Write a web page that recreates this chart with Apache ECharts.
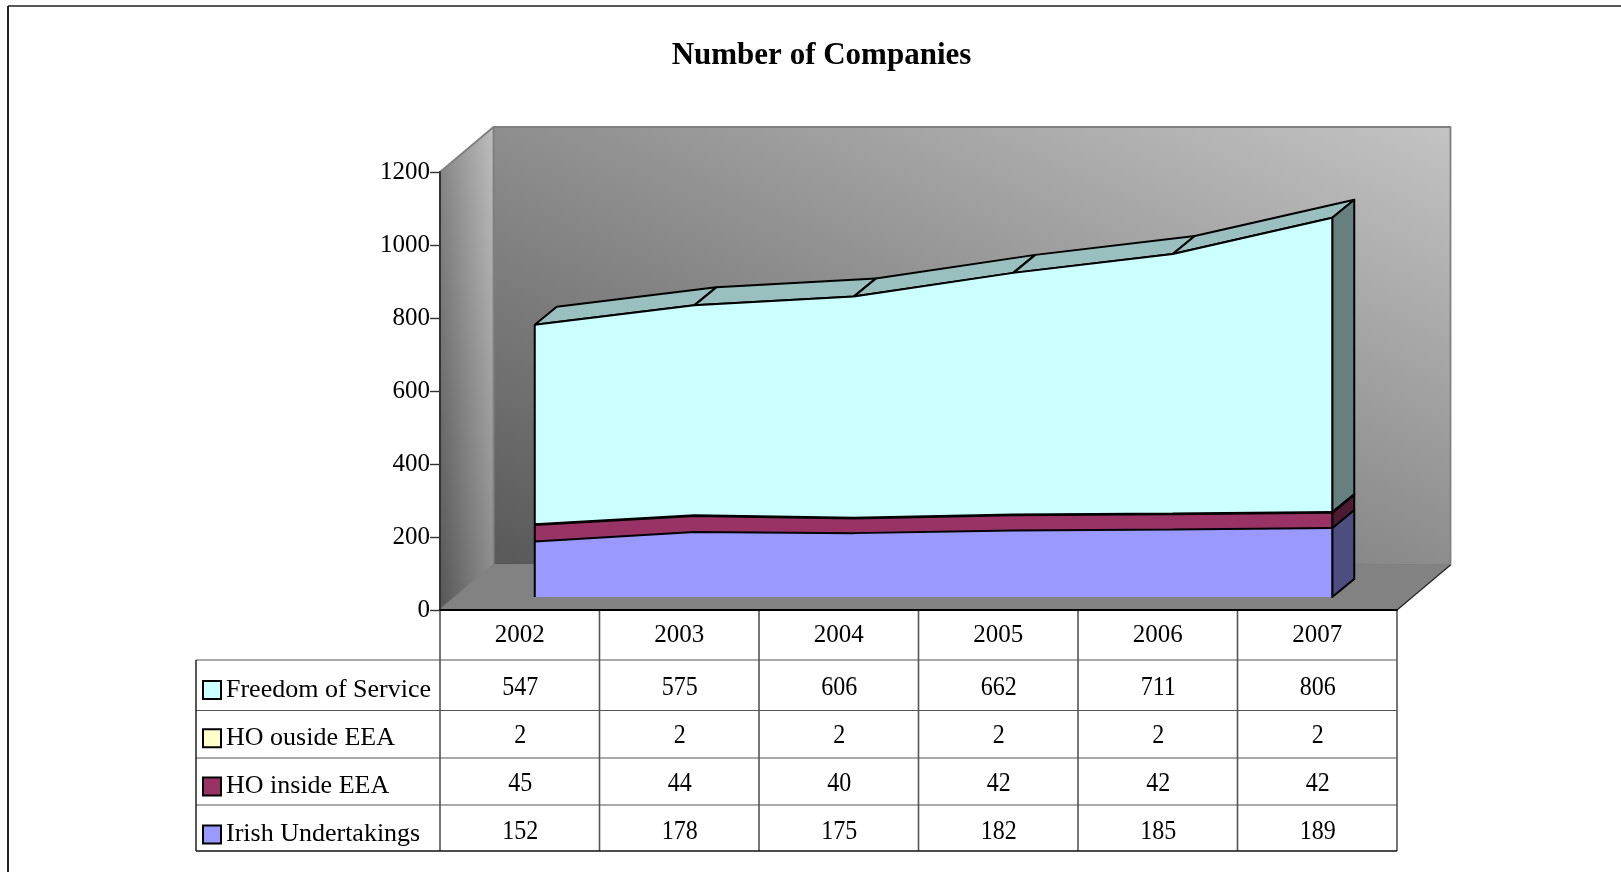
<!DOCTYPE html>
<html><head><meta charset="utf-8">
<style>html,body{margin:0;padding:0;background:#fff}#c{width:1621px;height:872px}</style>
<script src="https://cdn.jsdelivr.net/npm/echarts@6/dist/echarts.min.js"></script>
</head><body><div id="c"></div>
<script>
const categories = ['2002','2003','2004','2005','2006','2007'];
const irishUndertakings = [152,178,175,182,185,189];
const hoInsideEEA = [45,44,40,42,42,42];
const hoOutsideEEA = [2,2,2,2,2,2];
const freedomOfService = [547,575,606,662,711,806];
const yTicks = {min:0,max:1200,interval:200};
const titleText = 'Number of Companies';

const FONT = '"Liberation Serif","Times New Roman",serif';
const layers = [
  {name:'Irish Undertakings', values:irishUndertakings, color:'#9999FF', side:'#4D4D80'},
  {name:'HO inside EEA', values:hoInsideEEA, color:'#993366', side:'#4D1A33'},
  {name:'HO ouside EEA', values:hoOutsideEEA, color:'#FFFFCC', side:'#808066'},
  {name:'Freedom of Service', values:freedomOfService, color:'#CCFFFF', side:'#668080', top:'#99BFBF'}
];
const tableRows = [layers[3],layers[2],layers[1],layers[0]];
const cum = [];
layers.forEach((l,k)=>{cum.push(l.values.map((v,i)=>v+(k?cum[k-1][i]:0)));});

const ROOM = {dx:53.5, dy:-45};
const AREA = {dx:22, dy:-18};
const ROW_LINES = [660,710.5,758,805,851];
const ROW_TEXT = [688,736,784,832];
const TABLE_LEFT = 196;

function poly(points, fill, stroke, lw){
  return {type:'polygon', shape:{points}, style:{fill, stroke:stroke||null, lineWidth:lw||0, lineJoin:'round'}};
}
function line(x1,y1,x2,y2,stroke,lw){
  return {type:'line', shape:{x1,y1,x2,y2}, style:{stroke, lineWidth:lw}};
}
const off = (p,d)=>[p[0]+d.dx,p[1]+d.dy];

function renderRoom(params){
  const r = params.coordSys, x0=r.x, x1=r.x+r.width, yt=r.y, yb=r.y+r.height;
  const d = ROOM;
  const wallGrad = {type:'linear',x:0,y:1,x2:0.34,y2:-0.656,colorStops:[{offset:0,color:'#585858'},{offset:1,color:'#C4C4C4'}]};
  const sideGrad = {type:'linear',x:0,y:1,x2:2,y2:0.976,colorStops:[{offset:0,color:'#555555'},{offset:1,color:'#C4C4C4'}]};
  return {type:'group',children:[
    poly([[x0+d.dx,yt+d.dy],[x1+d.dx,yt+d.dy],[x1+d.dx,yb+d.dy],[x0+d.dx,yb+d.dy]],wallGrad,'#808080',1.8),
    poly([[x0,yb],[x0,yt],[x0+d.dx,yt+d.dy],[x0+d.dx,yb+d.dy]],sideGrad,'#808080',1.8),
    poly([[x0,yb],[x0+d.dx,yb+d.dy],[x1+d.dx,yb+d.dy],[x1,yb]],'#828282'),
    line(x1,yb,x1+d.dx,yb+d.dy,'#222',1.2)
  ]};
}
function renderDepth(params,api){
  const n = categories.length, kids=[];
  const top = cum[3], last=n-1;
  for(let i=0;i<n-1;i++){
    const a=api.coord([i,top[i]]), b=api.coord([i+1,top[i+1]]);
    kids.push(poly([a,b,off(b,AREA),off(a,AREA)],layers[3].top,'#000',2));
  }
  layers.forEach((l,k)=>{
    const lo=api.coord([last,k?cum[k-1][last]:0]), hi=api.coord([last,cum[k][last]]);
    kids.push(poly([lo,hi,off(hi,AREA),off(lo,AREA)],l.side,'#000',2));
  });
  return {type:'group',children:kids};
}
function renderEdges(params,api){
  const n=categories.length, a0=api.coord([0,0]), a1=api.coord([0,cum[3][0]]), b0=api.coord([n-1,0]), b1=api.coord([n-1,cum[3][n-1]]);
  return {type:'group',children:[line(a0[0],a0[1],a1[0],a1[1],'#000',2),line(b0[0],b0[1],b1[0],b1[1],'#000',2)]};
}
function renderTableGrid(params){
  const r=params.coordSys, x0=r.x, x1=r.x+r.width, yt=r.y+r.height, band=r.width/categories.length;
  const kids=[];
  for(let i=0;i<=categories.length;i++){
    const x=x0+band*i;
    kids.push(line(x,yt,x,ROW_LINES[ROW_LINES.length-1],'#555',1.6));
  }
  ROW_LINES.forEach((y,i)=>{
    kids.push(line(TABLE_LEFT,y,x1,y,i===ROW_LINES.length-1?'#111':'#555',i===ROW_LINES.length-1?1.4:1.2));
  });
  kids.push(line(TABLE_LEFT,ROW_LINES[0],TABLE_LEFT,ROW_LINES[ROW_LINES.length-1],'#111',1.4));
  return {type:'group',children:kids};
}
const cellData=[];
tableRows.forEach((l,r)=>l.values.forEach((v,c)=>cellData.push([c,v,r])));
function renderCell(params,api){
  const d=cellData[params.dataIndex];
  const x=api.coord([d[0],0])[0]+0.5;
  return {type:'text',x,y:ROW_TEXT[d[2]],scaleX:0.89,
    style:{text:String(d[1]),fontFamily:FONT,fontSize:27,fill:'#000',align:'center',verticalAlign:'middle'}};
}

const option = {
  animation:false,
  backgroundColor:'#fff',
  title:{text:titleText,left:816.5,top:35,textAlign:'center',
    textStyle:{fontFamily:FONT,fontWeight:'bold',fontSize:31,color:'#000'}},
  legend:{orient:'vertical',left:197,top:672,itemWidth:18,itemHeight:18,itemGap:22.2,icon:'rect',
    selectedMode:false,
    itemStyle:{borderColor:'#000',borderWidth:2},
    data:tableRows.map(l=>l.name),
    textStyle:{fontFamily:FONT,fontSize:26,color:'#000',padding:[0,0,0,0]}},
  grid:[
    {left:440,top:172,width:957,height:438},
    {left:455,top:159,width:957,height:438}
  ],
  xAxis:[
    {type:'category',gridIndex:0,data:categories,z:5,boundaryGap:true,
     axisLine:{lineStyle:{color:'#000',width:2}},axisTick:{show:false},
     axisLabel:{fontFamily:FONT,fontSize:25,color:'#000',margin:13}},
    {type:'category',gridIndex:1,data:categories,boundaryGap:true,show:false}
  ],
  yAxis:[
    {type:'value',gridIndex:0,min:yTicks.min,max:yTicks.max,interval:yTicks.interval,z:5,
     axisLine:{show:true,lineStyle:{color:'#333',width:2}},
     axisTick:{show:true,length:10,lineStyle:{color:'#333',width:1.4}},
     splitLine:{show:false},
     axisLabel:{fontFamily:FONT,fontSize:25,color:'#000',margin:10,formatter:v=>String(v)}},
    {type:'value',gridIndex:1,min:yTicks.min,max:yTicks.max,interval:yTicks.interval,show:false}
  ],
  graphic:[
    {type:'line',z:100,shape:{x1:8,y1:6,x2:1621,y2:6},style:{stroke:'#222',lineWidth:1.6}},
    {type:'line',z:100,shape:{x1:8,y1:6,x2:8,y2:872},style:{stroke:'#222',lineWidth:2}}
  ],
  series:[
    {type:'custom',name:'room',xAxisIndex:0,yAxisIndex:0,z:0,silent:true,data:[[0,0]],renderItem:renderRoom},
    {type:'custom',name:'depth',xAxisIndex:1,yAxisIndex:1,z:1,silent:true,data:[[0,0]],renderItem:renderDepth},
    ...layers.map(l=>({
      type:'line',name:l.name,xAxisIndex:1,yAxisIndex:1,stack:'total',data:l.values,
      symbol:'none',clip:false,z:2,
      itemStyle:{color:l.color},
      lineStyle:{color:'#000',width:2},
      areaStyle:{color:l.color,opacity:1}
    })),
    {type:'custom',name:'edges',xAxisIndex:1,yAxisIndex:1,z:3,silent:true,data:[[0,0]],renderItem:renderEdges},
    {type:'custom',name:'tableGrid',xAxisIndex:0,yAxisIndex:0,z:4,silent:true,data:[[0,0]],renderItem:renderTableGrid},
    {type:'custom',name:'tableCells',xAxisIndex:0,yAxisIndex:0,z:4,silent:true,data:cellData,renderItem:renderCell}
  ]
};
const chart = echarts.init(document.getElementById('c'),null,{renderer:'canvas',width:1621,height:872});
chart.setOption(option);
</script></body></html>
